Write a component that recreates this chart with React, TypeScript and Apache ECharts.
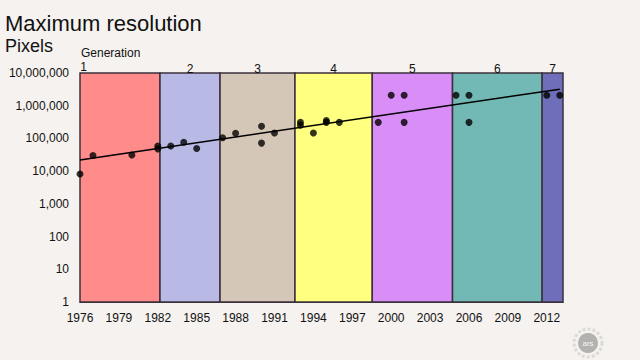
import React, { useEffect, useRef } from "react";
import * as echarts from "echarts";

// Year offsets are measured from BASE_YEAR
const BASE_YEAR = 1976;
const X_MAX = 37.25;

const pointYears = [1976, 1977, 1980, 1982, 1982, 1983, 1984, 1985, 1987, 1988, 1990, 1990, 1991, 1993, 1993, 1994, 1995, 1995, 1996, 1999, 2000, 2001, 2001, 2005, 2006, 2006, 2012, 2013];
const pointValues = [8200, 30000, 31000, 59000, 48000, 59000, 76000, 49000, 105000, 144000, 235000, 72000, 147000, 310000, 255000, 147000, 350000, 310000, 310000, 310000, 2100000, 2100000, 310000, 2100000, 2100000, 310000, 2100000, 2100000];

const trendYears = [1976, 2013];
const trendValues = [22000, 3200000];

const generationNames = ["1", "2", "3", "4", "5", "6", "7"];
const generationStarts = [0, 6.17, 10.8, 16.58, 22.54, 28.73, 35.64];
const generationEnds = [6.17, 10.8, 16.58, 22.54, 28.73, 35.64, 37.25];
const generationColors = ["#FF8B8B", "#B9B9E5", "#D5C7B7", "#FFFF80", "#D98DF7", "#72B8B4", "#6E6EBA"];

const FONT = "'Liberation Sans', Arial, sans-serif";

export default function App() {
  const ref = useRef<HTMLDivElement>(null);

  useEffect(() => {
    if (!ref.current) return;
    const chart = echarts.init(ref.current, null, { renderer: "svg" });

    const markData = generationNames.map((name, i) => [
      {
        name,
        xAxis: generationStarts[i],
        itemStyle: { color: generationColors[i] },
        label:
          i === 0
            ? { position: "insideTopLeft", distance: 0, offset: [1, -11] }
            : undefined,
      },
      { xAxis: generationEnds[i] },
    ]);

    chart.setOption({
      animation: false,
      backgroundColor: "#F5F2EF",
      textStyle: { fontFamily: FONT },
      title: [
        {
          text: "Maximum resolution",
          left: 1,
          top: 12,
          padding: [0, 4],
          textStyle: { fontSize: 22, fontWeight: "normal", color: "#111", fontFamily: FONT },
        },
        {
          text: "Pixels",
          left: 1,
          top: 37,
          padding: [0, 4],
          textStyle: { fontSize: 18, fontWeight: "normal", color: "#111", fontFamily: FONT },
        },
        {
          text: "Generation",
          left: 77,
          top: 47,
          padding: [0, 4],
          textStyle: { fontSize: 12, fontWeight: "normal", color: "#111", fontFamily: FONT },
        },
      ],
      grid: { left: 80, right: 77, top: 73, bottom: 58, containLabel: false },
      xAxis: {
        type: "value",
        min: 0,
        max: X_MAX,
        interval: 3,
        splitLine: { show: false },
        axisLine: { lineStyle: { color: "#333", width: 1 } },
        axisTick: { inside: true, length: 4, lineStyle: { color: "#333" } },
        axisLabel: {
          color: "#111",
          fontSize: 12,
          fontFamily: FONT,
          margin: 10,
          showMaxLabel: false,
          formatter: (v: number) => (Math.abs(v % 3) < 1e-6 ? String(BASE_YEAR + v) : ""),
        },
      },
      yAxis: {
        type: "log",
        logBase: 10,
        min: 1,
        max: 10000000,
        splitLine: { show: false },
        axisLine: { show: true, lineStyle: { color: "#333", width: 1 } },
        axisTick: { show: true, inside: true, length: 4, lineStyle: { color: "#333" } },
        minorTick: { show: false },
        axisLabel: {
          color: "#111",
          fontSize: 12,
          fontFamily: FONT,
          margin: 11,
          formatter: (v: number) => Math.round(v).toLocaleString("en-US"),
        },
      },
      series: [
        {
          type: "line",
          data: trendYears.map((y, i) => [y - BASE_YEAR, trendValues[i]]),
          symbol: "none",
          lineStyle: { color: "#000", width: 1.5 },
          z: 3,
          markArea: {
            silent: true,
            itemStyle: { borderColor: "#3c303c", borderWidth: 1.5 },
            label: {
              show: true,
              position: "top",
              distance: -3,
              color: "#111",
              fontSize: 12,
              fontFamily: FONT,
            },
            data: markData,
          },
        },
        {
          type: "scatter",
          clip: false,
          data: pointYears.map((y, i) => [y - BASE_YEAR, pointValues[i]]),
          symbol: "circle",
          symbolSize: 7,
          itemStyle: { color: "#000" },
          z: 4,
        },
      ],
      graphic: [
        {
          type: "circle",
          shape: { cx: 588, cy: 343, r: 14 },
          style: { fill: "none", stroke: "#dcdad7", lineWidth: 3, lineDash: [3, 2] },
        },
        {
          type: "circle",
          shape: { cx: 588, cy: 343, r: 10 },
          style: { fill: "#b4b2b0" },
        },
        {
          type: "text",
          x: 588,
          y: 343,
          style: {
            text: "ars",
            fill: "#f5f5f5",
            fontSize: 8,
            fontFamily: FONT,
            align: "center",
            verticalAlign: "middle",
          },
        },
      ],
    });

    return () => chart.dispose();
  }, []);

  return <div ref={ref} style={{ width: 640, height: 360, position: "absolute", left: 0, top: 0 }} />;
}
